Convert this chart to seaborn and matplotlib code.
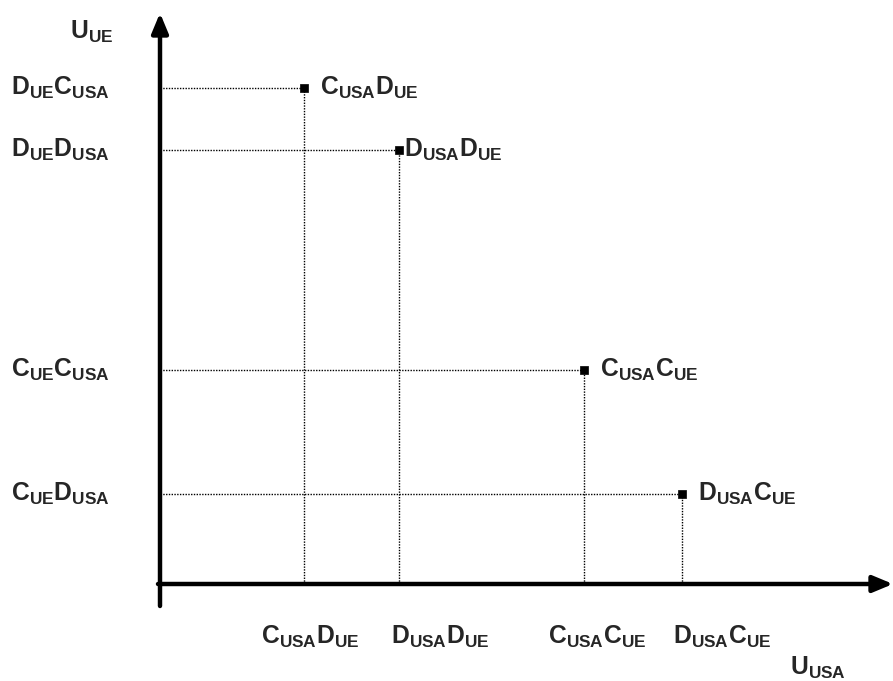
import matplotlib
matplotlib.use("Agg")
import matplotlib.pyplot as plt
import seaborn as sns
import pandas as pd

# payoff points (U_USA, U_UE)
point_labels = [r"C_{USA}D_{UE}", r"D_{USA}D_{UE}", r"C_{USA}C_{UE}", r"D_{USA}C_{UE}"]
u_usa = [1.5, 2.49, 4.42, 5.44]
u_ue = [5.17, 4.52, 2.23, 0.94]
y_tick_labels = [r"D_{UE}C_{USA}", r"D_{UE}D_{USA}", r"C_{UE}C_{USA}", r"C_{UE}D_{USA}"]

# small layout nudges (pixels) seen in the original drawing
point_label_dx = [16, 5, 16, 16]
x_label_dx = [6, 41, 13, 40]


def bold_sub(s):
    # turn "C_{USA}D_{UE}" into bold mathtext
    out = ""
    for part in s.split("}"):
        if not part:
            continue
        main, sub = part.split("_{")
        out += r"\mathbf{%s}_{\mathbf{%s}}" % (main, sub)
    return "$" + out + "$"


sns.set_style("white")
plt.rcParams["mathtext.fontset"] = "custom"
plt.rcParams["mathtext.bf"] = "Liberation Sans:bold"
plt.rcParams["mathtext.rm"] = "Liberation Sans"
plt.rcParams["font.family"] = ["Liberation Sans", "DejaVu Sans"]

df = pd.DataFrame({"u_usa": u_usa, "u_ue": u_ue, "label": point_labels})

W, H = 893, 681
ox, oy = 160, 584  # pixel position of the origin
unit = 96.0
px = 0.72  # points per pixel at dpi 100

fig = plt.figure(figsize=(W / 100, H / 100), dpi=100)
ax = fig.add_axes([0, 0, 1, 1])
ax.set_xlim(-ox / unit, (W - ox) / unit)
ax.set_ylim((oy - H) / unit, oy / unit)
ax.axis("off")

# dotted guide lines
ax.hlines(df["u_ue"], 0, df["u_usa"], colors="black", linestyles=(0, (1, 1.0)), linewidth=1.0)
ax.vlines(df["u_usa"], 0, df["u_ue"], colors="black", linestyles=(0, (1, 1.0)), linewidth=1.0)

sns.scatterplot(data=df, x="u_usa", y="u_ue", marker="s", s=38, color="black",
                edgecolor="black", ax=ax, zorder=5, legend=False)

# axes with arrows
arrow = dict(arrowstyle="-|>,head_length=1.2,head_width=0.5", color="black", lw=3.2,
             shrinkA=0, shrinkB=0)
ax.annotate("", xy=(0, (oy - 13) / unit), xytext=(0, (oy - 606) / unit), arrowprops=arrow)
ax.annotate("", xy=((W - ox) / unit, 0), xytext=(-2 / unit, 0), arrowprops=arrow)

fs = 17.7
for x, y, lab, dx, tx in zip(df["u_usa"], df["u_ue"], df["label"], point_label_dx, x_label_dx):
    ax.annotate(bold_sub(lab), (x, y), xytext=(dx * px, 0), textcoords="offset points",
                ha="left", va="center", fontsize=fs)
    ax.annotate(bold_sub(lab), (x, 0), xytext=(tx * px, -53 * px), textcoords="offset points",
                ha="center", va="center", fontsize=fs)

for y, lab in zip(u_ue, y_tick_labels):
    ax.annotate(bold_sub(lab), (0, y), xytext=(-50 * px, 0), textcoords="offset points",
                ha="right", va="center", fontsize=fs)

ax.text((92 - ox) / unit, (oy - 32) / unit, bold_sub("U_{UE}"), ha="center", va="center", fontsize=fs)
ax.text((818 - ox) / unit, (oy - 668) / unit, bold_sub("U_{USA}"), ha="center", va="center", fontsize=fs)

fig.savefig("out.png", dpi=100)
